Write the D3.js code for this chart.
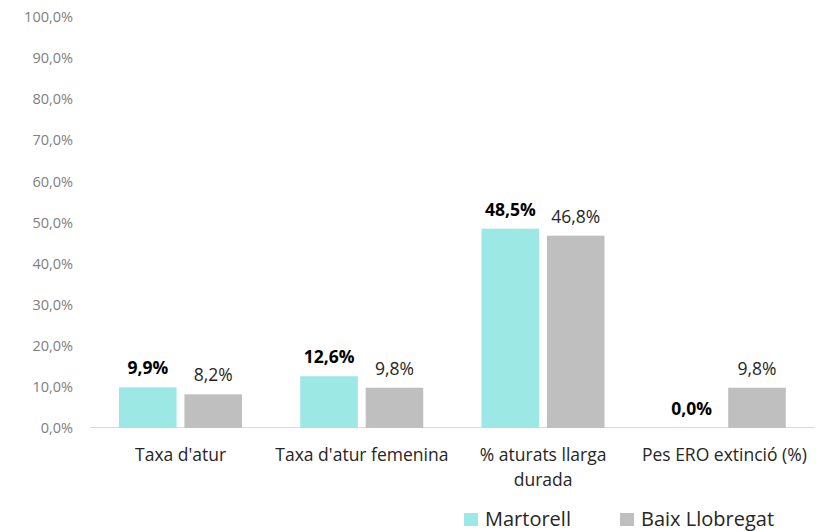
<!DOCTYPE html>
<html>
<head>
<meta charset="utf-8">
<script src="https://cdn.jsdelivr.net/npm/d3@7"></script>
<style>
  body { margin: 0; background: #fff; }
  text { font-family: "Open Sans", Lato, sans-serif; }
</style>
</head>
<body>
<svg id="chart" width="816" height="531"></svg>
<script>
var categories = [["Taxa d'atur"], ["Taxa d'atur femenina"], ["% aturats llarga", "durada"], ["Pes ERO extinció (%)"]];
var series = ["Martorell", "Baix Llobregat"];
var martorell = [9.9, 12.6, 48.5, 0.0];
var baix = [8.2, 9.8, 46.8, 9.8];
var yTicks = [0, 10, 20, 30, 40, 50, 60, 70, 80, 90, 100];

var colors = ["#9be8e4", "#bfbfbf"];

var svg = d3.select("#chart");
var fmt = function (v) { return v.toFixed(1).replace(".", ",") + "%"; };

var catKeys = categories.map(function (c, i) { return i; });

var x0 = d3.scaleBand().domain(catKeys).range([90, 815]).padding(0);
var x1 = d3.scaleBand().domain(series).range([29, 152]).paddingInner(0.12);
var y = d3.scaleLinear().domain([0, 100]).range([428, 17]);

// y axis labels (no line, no gridlines)
var yAxis = svg.append("g")
    .attr("transform", "translate(73,0)")
    .call(d3.axisLeft(y).tickValues(yTicks).tickSize(0).tickPadding(0).tickFormat(fmt));
yAxis.select(".domain").remove();
yAxis.selectAll("text")
    .style("font-family", "'Open Sans', Lato, sans-serif")
    .style("font-size", "14.5px")
    .attr("fill", "#808080");

// baseline
svg.append("line")
    .attr("x1", 90).attr("x2", 815)
    .attr("y1", y(0) - 0.5).attr("y2", y(0) - 0.5)
    .attr("stroke", "#d9d9d9")
    .attr("stroke-width", 1.2);

var rows = catKeys.map(function (i) {
    return { cat: i, values: [martorell[i], baix[i]] };
});

var groups = svg.selectAll(".grp")
    .data(rows)
    .enter().append("g")
    .attr("class", "grp")
    .attr("transform", function (d) { return "translate(" + x0(d.cat) + ",0)"; });

groups.selectAll("rect")
    .data(function (d) { return d.values.map(function (v, j) { return { s: series[j], v: v, j: j }; }); })
    .enter().append("rect")
    .attr("x", function (d) { return x1(d.s); })
    .attr("width", x1.bandwidth())
    .attr("y", function (d) { return y(d.v); })
    .attr("height", function (d) { return y(0) - y(d.v); })
    .attr("fill", function (d) { return colors[d.j]; });

groups.selectAll(".lbl")
    .data(function (d) { return d.values.map(function (v, j) { return { s: series[j], v: v, j: j }; }); })
    .enter().append("text")
    .attr("class", "lbl")
    .attr("x", function (d) { return x1(d.s) + x1.bandwidth() / 2; })
    .attr("y", function (d) { return y(d.v) - 13; })
    .attr("text-anchor", "middle")
    .style("font-size", "17.5px")
    .style("font-weight", function (d) { return d.j === 0 ? "bold" : "normal"; })
    .attr("fill", function (d) { return d.j === 0 ? "#000" : "#262626"; })
    .text(function (d) { return fmt(d.v); });

// category labels
groups.append("text")
    .attr("x", x0.bandwidth() / 2)
    .attr("text-anchor", "middle")
    .style("font-size", "17.5px")
    .attr("fill", "#262626")
    .selectAll("tspan")
    .data(function (d) { return categories[d.cat]; })
    .enter().append("tspan")
    .attr("x", x0.bandwidth() / 2)
    .attr("y", function (d, k) { return 461 + k * 25; })
    .text(function (d) { return d; });

// legend
var legendX = [464, 620];
var legend = svg.selectAll(".leg")
    .data(series)
    .enter().append("g")
    .attr("class", "leg")
    .attr("transform", function (d, i) { return "translate(" + legendX[i] + ",513)"; });
legend.append("rect")
    .attr("width", 14).attr("height", 13)
    .attr("fill", function (d, i) { return colors[i]; });
legend.append("text")
    .attr("x", 21)
    .attr("y", 13)
    .style("font-size", "20px")
    .attr("fill", "#262626")
    .text(function (d) { return d; });
</script>
</body>
</html>
